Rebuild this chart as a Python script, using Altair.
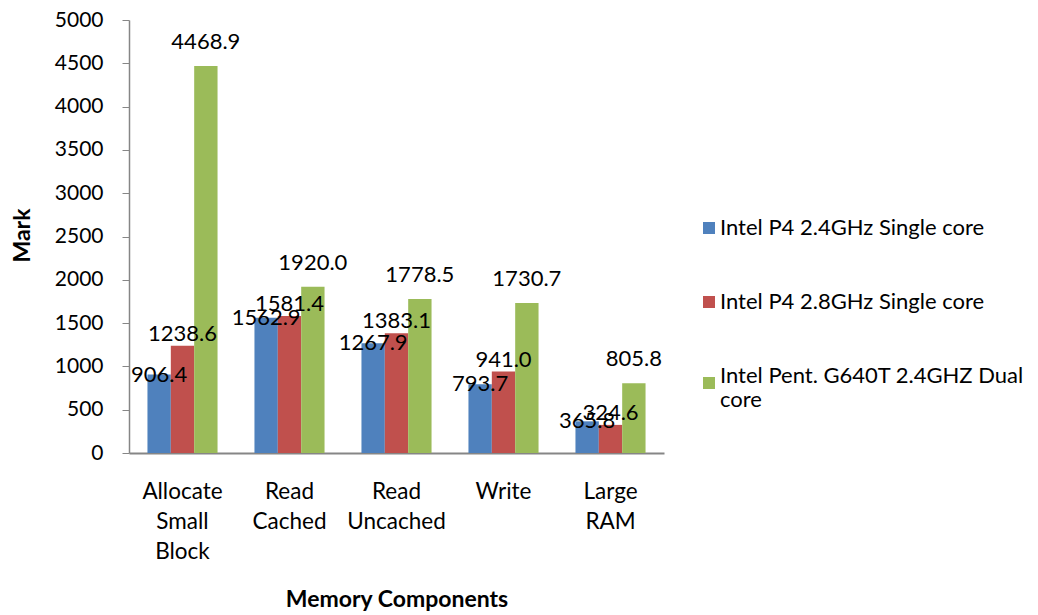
import altair as alt
import pandas as pd

categories = ["Allocate Small Block", "Read Cached", "Read Uncached", "Write", "Large RAM"]
series = [
    "Intel P4 2.4GHz Single core",
    "Intel P4 2.8GHz Single core",
    "Intel Pent. G640T 2.4GHZ Dual core",
]
p4_24 = [906.4, 1562.9, 1267.9, 793.7, 365.8]
p4_28 = [1238.6, 1581.4, 1383.1, 941.0, 324.6]
g640t = [4468.9, 1920.0, 1778.5, 1730.7, 805.8]
colors = ["#4F81BD", "#C0504D", "#9BBB59"]
y_ticks = [0, 500, 1000, 1500, 2000, 2500, 3000, 3500, 4000, 4500, 5000]

rows = []
for s, vals in zip(series, [p4_24, p4_28, g640t]):
    for c, v in zip(categories, vals):
        rows.append({"category": c, "series": s, "mark": v})
df = pd.DataFrame(rows)

FONT = "Lato"
GREY = "#868686"

x_enc = alt.X(
    "category:N",
    sort=categories,
    scale=alt.Scale(paddingInner=0.345, paddingOuter=0.1725),
    axis=alt.Axis(
        title="Memory Components",
        labelExpr="split(datum.label, ' ')",
        labelAngle=0,
        labelLineHeight=30,
        labelPadding=27,
        labelFontSize=22.5,
        labelFont=FONT,
        labelColor="black",
        ticks=False,
        domainColor=GREY,
        domainWidth=2,
        titleFont=FONT,
        titleFontSize=23,
        titleFontWeight="bold",
        titleColor="black",
        titleBaseline="alphabetic",
        titleY=153,
    ),
)
xoff = alt.XOffset("series:N", sort=series, scale=alt.Scale(paddingInner=0, paddingOuter=0))
y_enc = alt.Y(
    "mark:Q",
    scale=alt.Scale(domain=[0, 5000], nice=False),
    axis=alt.Axis(
        values=y_ticks,
        format="d",
        grid=False,
        tickSize=7,
        tickColor=GREY,
        domainColor=GREY,
        domainWidth=1.5,
        labelPadding=19,
        labelFontSize=21,
        labelFont=FONT,
        labelColor="black",
        title="Mark",
        titleFont=FONT,
        titleFontSize=23,
        titleFontWeight="bold",
        titleColor="black",
        titleX=-107,
        titleY=215,
        titleBaseline="middle",
        titleAlign="center",
    ),
)

legend = alt.Legend(
    title=None,
    orient="none",
    legendX=569,
    legendY=197,
    symbolType="square",
    symbolSize=144,
    symbolStrokeWidth=0,
    labelFont=FONT,
    labelFontSize=22,
    labelColor="black",
    labelOffset=0,
    labelLimit=500,
    rowPadding=52,
    labelExpr="datum.label == 'Intel Pent. G640T 2.4GHZ Dual core' ? ['Intel Pent. G640T 2.4GHZ Dual', 'core'] : datum.label",
    labelBaseline=alt.ExprRef(expr="datum.value == 'Intel Pent. G640T 2.4GHZ Dual core' ? 'alphabetic' : 'middle'"),
)

bars = alt.Chart(df).mark_bar().encode(
    x=x_enc,
    xOffset=xoff,
    y=y_enc,
    color=alt.Color("series:N", sort=series, scale=alt.Scale(domain=series, range=colors), legend=legend),
)

label_layers = []
for i, s in enumerate(series):
    label_layers.append(
        alt.Chart(df)
        .transform_filter(alt.datum.series == s)
        .mark_text(font=FONT, fontSize=22, color="black", baseline="middle", dy=-12 * i)
        .encode(
            x=alt.X("category:N", sort=categories),
            xOffset=alt.XOffset("series:N", sort=series),
            y="mark:Q",
            text=alt.Text("mark:Q", format=".1f"),
        )
    )

chart = (
    alt.layer(bars, *label_layers)
    .properties(
        width=535,
        height=433,
        autosize=alt.AutoSizeParams(type="none"),
        padding={"left": 121, "top": 12, "right": 366, "bottom": 160},
        background="white",
    )
    .configure_view(stroke=None)
)

chart.save("out.html", embed_options={"renderer": "svg", "actions": False})
